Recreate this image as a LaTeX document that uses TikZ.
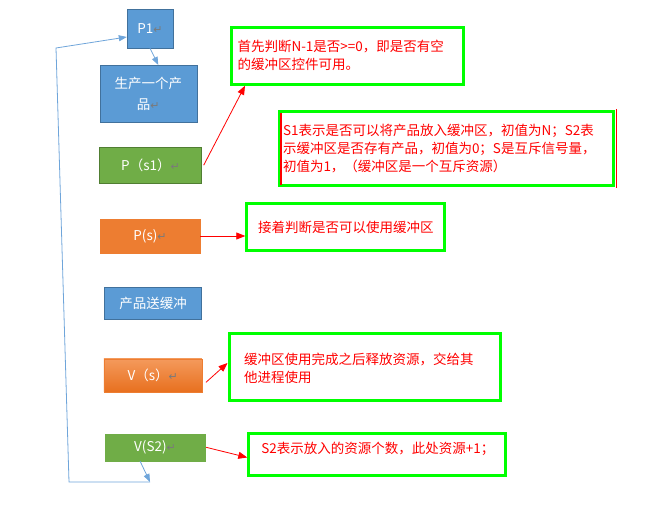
\documentclass[tikz,border=0pt]{standalone}
\usepackage{fontspec}
\setmainfont{Noto Sans CJK SC}
\newfontfamily\marksfont{DejaVu Sans}
\usetikzlibrary{arrows.meta,positioning}
\definecolor{boxblue}{HTML}{5B9BD5}
\definecolor{blueedge}{HTML}{41719C}
\definecolor{boxgreen}{HTML}{70AD47}
\definecolor{greenedge}{HTML}{507E32}
\definecolor{boxorange}{HTML}{ED7D31}
\definecolor{orangetop}{HTML}{F49A5C}
\definecolor{orangebot}{HTML}{E8701F}
\definecolor{notegreen}{HTML}{00FF00}
\definecolor{markgray}{HTML}{7A7A7A}
\definecolor{loopblue}{HTML}{6FA5DA}
\newcommand{\retmark}{{\marksfont\fontsize{11}{11}\selectfont\textcolor{markgray}{↵}}}

\begin{document}
\begin{tikzpicture}[x=1pt,y=-1pt,
  proc/.style={draw,text=white,inner sep=0pt,align=center,font=\fontsize{13.5}{20.5}\selectfont},
  note/.style={draw=notegreen,line width=3pt,text=red,align=left,font=\fontsize{13.5}{18}\selectfont},
  flow/.style={draw=loopblue,line width=0.8pt,-{Triangle[length=8pt,width=6pt]}},
  hint/.style={red,line width=0.8pt,-{Triangle[length=9pt,width=7pt]}}]
\useasboundingbox (0,0) rectangle (656,518);

% producer steps
\node[proc,fill=boxblue,draw=blueedge,minimum width=46pt,minimum height=39pt] (P1) at (150,28.5) {P1\retmark};
\node[proc,fill=boxblue,draw=blueedge,minimum width=97pt,minimum height=57pt] (prod) at (148.3,93.7) {生产一个产\\品\retmark};
\node[proc,fill=boxgreen,draw=greenedge,minimum width=102pt,minimum height=36pt] (ps1) at (150.5,165.2) {P（s1）\retmark};
\node[proc,fill=boxorange,draw=boxorange,minimum width=100pt,minimum height=34pt] (ps) at (150,236) {P(s)\retmark};
\node[proc,fill=boxblue,draw=blueedge,minimum width=97pt,minimum height=32pt] (send) at (153,303.5) {产品送缓冲};
\node[proc,top color=orangetop,bottom color=orangebot,draw=boxorange,minimum width=98pt,minimum height=33pt] (vs) at (152.8,375.3) {V（s）\retmark};
\node[proc,fill=boxgreen,draw=boxgreen,minimum width=100pt,minimum height=27pt] (vs2) at (155,447.3) {V(S2)\retmark};

% notes
\node[note,minimum width=232pt,minimum height=57pt,text width=220pt] (n1) at (347.5,55.7) {首先判断N-1是否>=0，即是否有空\\的缓冲区控件可用。};
\node[note,minimum width=334pt,minimum height=74pt,text width=326pt] (n2) at (446,148.7) {S1表示是否可以将产品放入缓冲区，初值为N；S2表\\示缓冲区是否存有产品，初值为0；S是互斥信号量，\\初值为1，（缓冲区是一个互斥资源）};
\node[note,minimum width=198pt,minimum height=47pt,align=center] (n3) at (345.8,227.5) {接着判断是否可以使用缓冲区};
\node[note,minimum width=271pt,minimum height=67pt,text width=241pt,text depth=16pt] (n4) at (364.5,367) {缓冲区使用完成之后释放资源，交给其\\他进程使用};
\node[note,minimum width=257pt,minimum height=42pt,text width=232pt,text depth=13pt] (n5) at (377.3,454.5) {S2表示放入的资源个数，此处资源+1；};
\draw[red,line width=1.5pt] ([xshift=3.5pt,yshift=-2.5pt]n2.north west) -- ([xshift=3.5pt,yshift=2.5pt]n2.south west);
\draw[red,line width=1.5pt] ([xshift=2pt,yshift=1pt]n2.north east) -- ([xshift=2pt,yshift=-1pt]n2.south east);

% flow and loop back
\coordinate (loopend) at (150,482);
\coordinate (loopbl) at (69,482);
\coordinate (looptl) at (56,48);
\draw[flow] (P1.south) -- ([xshift=10pt]prod.north);
\draw[flow] ([xshift=-15pt]vs2.south) -- (loopend);
\draw[flow] (loopend) -- (loopbl) -- (looptl) -- ([yshift=-8.5pt]P1.west);

% red hints
\draw[hint] ([xshift=2pt]ps1.east) -- ([xshift=15pt]n1.south west);
\draw[hint] (ps.east) -- (ps.east -| n3.west);
\draw[hint] ([xshift=4pt,yshift=-7pt]vs.east) -- ([yshift=4pt]n4.west);
\draw[hint] ([xshift=1pt]vs2.east) -- ([yshift=-3pt]n5.west);
\end{tikzpicture}
\end{document}
